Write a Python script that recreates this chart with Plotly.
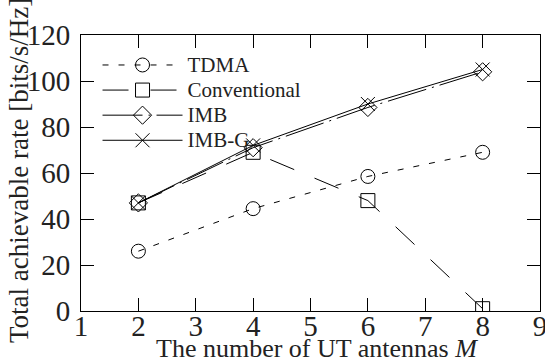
import plotly.graph_objects as go

M = [2, 4, 6, 8]
tdma = [26, 44.5, 58.5, 69]
conventional = [47, 69, 48, 1]
imb = [47, 71, 88.5, 104]
imbg = [47, 72, 90, 105]

x_ticks = [1, 2, 3, 4, 5, 6, 7, 8, 9]
y_ticks = [0, 20, 40, 60, 80, 100, 120]

FONT = "Liberation Serif"
fig = go.Figure()

def lname(s):
    return '<span style="font-size:21px">' + s + '</span>'

fig.add_trace(go.Scatter(x=M, y=tdma, name=lname("TDMA"), mode="lines+markers",
    line=dict(color="black", width=1, dash="6px,10px"),
    marker=dict(symbol="circle-open", size=14, color="black", line=dict(width=1))))
fig.add_trace(go.Scatter(x=M, y=conventional, name=lname("Conventional"), mode="lines+markers",
    line=dict(color="black", width=1, dash="26px,22px"),
    marker=dict(symbol="square-open", size=14, color="black", line=dict(width=1))))
fig.add_trace(go.Scatter(x=M, y=imb, name=lname("IMB"), mode="lines+markers",
    line=dict(color="black", width=1, dash="40px,6px,2px,6px"),
    marker=dict(symbol="diamond-open", size=14, color="black", line=dict(width=1))))
fig.add_trace(go.Scatter(x=M, y=imbg, name=lname("IMB-G"), mode="lines+markers",
    line=dict(color="black", width=1),
    marker=dict(symbol="x-thin-open", size=14, color="black", line=dict(width=1))))

axis_common = dict(showline=True, linecolor="black", linewidth=1, mirror="ticks",
                   ticks="inside", ticklen=13, tickcolor="black", showgrid=False,
                   zeroline=False, ticklabeloverflow="allow", automargin=False,
                   tickfont=dict(family=FONT, size=29, color="#222"))

fig.update_xaxes(range=[1, 9], tickvals=x_ticks, ticktext=[str(v) for v in x_ticks],
                 ticklabelstandoff=-11, **axis_common)
fig.update_yaxes(range=[0, 120], tickvals=y_ticks, ticktext=[str(v) for v in y_ticks],
                 ticklabelstandoff=4, **axis_common)

fig.add_annotation(text="The number of UT antennas <i>M</i>",
                   xref="paper", yref="paper", x=0.5, y=0, xshift=6, yshift=-21,
                   xanchor="center", yanchor="top", showarrow=False,
                   font=dict(family=FONT, size=26, color="#222"))
fig.add_annotation(text="Total achievable rate [bits/s/Hz]", textangle=-90,
                   xref="paper", yref="paper", x=0, y=0.5, xshift=-45, yshift=2,
                   xanchor="right", showarrow=False,
                   font=dict(family=FONT, size=27, color="#222"))

fig.update_layout(width=545, height=358, margin=dict(l=81, r=5, t=35, b=47, autoexpand=False),
                  plot_bgcolor="white", paper_bgcolor="white",
                  showlegend=True,
                  legend=dict(x=0.036, y=0.955, xanchor="left", yanchor="top",
                              bgcolor="rgba(0,0,0,0)", itemwidth=80,
                              font=dict(family=FONT, size=17, color="#222"),
                              tracegroupgap=0))

fig.write_html("out.html")
